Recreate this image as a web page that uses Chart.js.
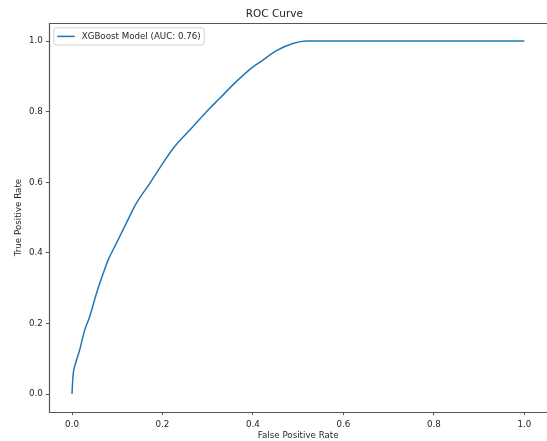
<!DOCTYPE html>
<html>
<head>
<meta charset="utf-8">
<script src="https://cdn.jsdelivr.net/npm/chart.js@4.4.0/dist/chart.umd.min.js"></script>
<style>
  html, body { margin: 0; padding: 0; background: #fff; overflow: hidden; }
  #wrap { width: 547px; height: 441px; overflow: hidden; position: relative; }
  canvas { display: block; }
</style>
</head>
<body>
<div id="wrap"><canvas id="c" width="547" height="441"></canvas></div>
<script>
// ---- data ----
const seriesLabel = 'XGBoost Model (AUC: 0.76)';
const fpr = [0, 0.002, 0.008, 0.017, 0.028, 0.039, 0.054, 0.069, 0.080, 0.098, 0.120, 0.142, 0.172, 0.201, 0.223, 0.267, 0.304, 0.326, 0.363, 0.400, 0.422, 0.451, 0.488, 0.518, 1.0];
const tpr = [0, 0.049, 0.087, 0.125, 0.181, 0.219, 0.285, 0.342, 0.380, 0.427, 0.484, 0.540, 0.597, 0.654, 0.695, 0.757, 0.809, 0.837, 0.885, 0.927, 0.946, 0.972, 0.993, 1.0, 1.0];
const xTicks = [0, 0.2, 0.4, 0.6, 0.8, 1.0];
const yTicks = [0, 0.2, 0.4, 0.6, 0.8, 1.0];

const FONT = "'DejaVu Sans', sans-serif";
const TXT = '#262626';
const LINE = '#1f77b4';

const framePlugin = {
  id: 'frame',
  afterDraw(chart) {
    const {ctx, chartArea: ca} = chart;
    ctx.save();
    ctx.strokeStyle = '#555';
    ctx.lineWidth = 1.2;
    const l = Math.round(ca.left) + 0.5, t = Math.round(ca.top) + 0.5, b = Math.round(ca.bottom) + 0.5;
    const r = chart.width + 2;
    ctx.beginPath();
    ctx.moveTo(r, t); ctx.lineTo(l, t); ctx.lineTo(l, b); ctx.lineTo(r, b);
    ctx.stroke();
    // legend inside the axes (upper left)
    const fs = 8.7;
    ctx.font = fs + 'px ' + FONT;
    const label = chart.data.datasets[0].label;
    const tw = ctx.measureText(label).width;
    const pad = 3.5, hl = 17.4, hp = 7;
    const bx = ca.left + 4.4, by = ca.top + 4.4;
    const bw = pad + hl + hp + tw + pad, bh = 17.2;
    ctx.beginPath();
    if (ctx.roundRect) ctx.roundRect(bx, by, bw, bh, 2.5); else ctx.rect(bx, by, bw, bh);
    ctx.fillStyle = 'rgba(255,255,255,0.8)';
    ctx.fill();
    ctx.strokeStyle = 'rgba(204,204,204,0.9)';
    ctx.lineWidth = 1;
    ctx.stroke();
    const cy = by + bh / 2;
    ctx.beginPath();
    ctx.moveTo(bx + pad, cy);
    ctx.lineTo(bx + pad + hl, cy);
    ctx.strokeStyle = LINE;
    ctx.lineWidth = 1.5;
    ctx.stroke();
    ctx.fillStyle = TXT;
    ctx.textBaseline = 'middle';
    ctx.textAlign = 'left';
    ctx.fillText(label, bx + pad + hl + hp, cy + 0.5);
    ctx.restore();
  }
};

const points = fpr.map((x, i) => ({x: x, y: tpr[i]}));

new Chart(document.getElementById('c'), {
  type: 'line',
  data: {
    datasets: [{
      label: seriesLabel,
      data: points,
      borderColor: LINE,
      backgroundColor: LINE,
      borderWidth: 1.5,
      pointRadius: 0,
      fill: false,
      cubicInterpolationMode: 'monotone'
    }]
  },
  options: {
    responsive: false,
    animation: false,
    events: [],
    layout: { padding: { left: 0, right: -1.7, top: 0, bottom: 0 } },
    plugins: {
      legend: { display: false },
      tooltip: { enabled: false },
      title: {
        display: true,
        text: 'ROC Curve',
        color: TXT,
        font: { family: FONT, size: 10.5, weight: 'normal', lineHeight: 1.2 },
        padding: { top: 8, bottom: 2.8 }
      }
    },
    scales: {
      x: {
        type: 'linear',
        min: -0.05, max: 1.05,
        afterBuildTicks: s => { s.ticks = xTicks.map(v => ({value: v})); },
        afterFit: s => { s.height = 29.3; },
        border: { display: false },
        grid: { display: true, drawOnChartArea: false, drawTicks: true, tickLength: 3.5, color: '#444', lineWidth: 0.9 },
        ticks: { color: TXT, padding: 4, font: { family: FONT, size: 8.7, lineHeight: 1.2 }, callback: v => Number(v).toFixed(1), maxRotation: 0 },
        title: { display: true, text: 'False Positive Rate', color: TXT, padding: { top: 0, bottom: 0 }, font: { family: FONT, size: 8.7, lineHeight: 1.2 } }
      },
      y: {
        type: 'linear',
        min: -0.05, max: 1.05,
        afterBuildTicks: s => { s.ticks = yTicks.map(v => ({value: v})); },
        afterFit: s => { s.width = 49.4; },
        border: { display: false },
        grid: { display: true, drawOnChartArea: false, drawTicks: true, tickLength: 3.5, color: '#444', lineWidth: 0.9 },
        ticks: { color: TXT, padding: 3.2, font: { family: FONT, size: 8.7, lineHeight: 1.2 }, callback: v => Number(v).toFixed(1) },
        title: { display: true, text: 'True Positive Rate', color: TXT, padding: { top: 13.8, bottom: 0 }, font: { family: FONT, size: 8.7, lineHeight: 1.2 } }
      }
    }
  },
  plugins: [framePlugin]
});
</script>
</body>
</html>
